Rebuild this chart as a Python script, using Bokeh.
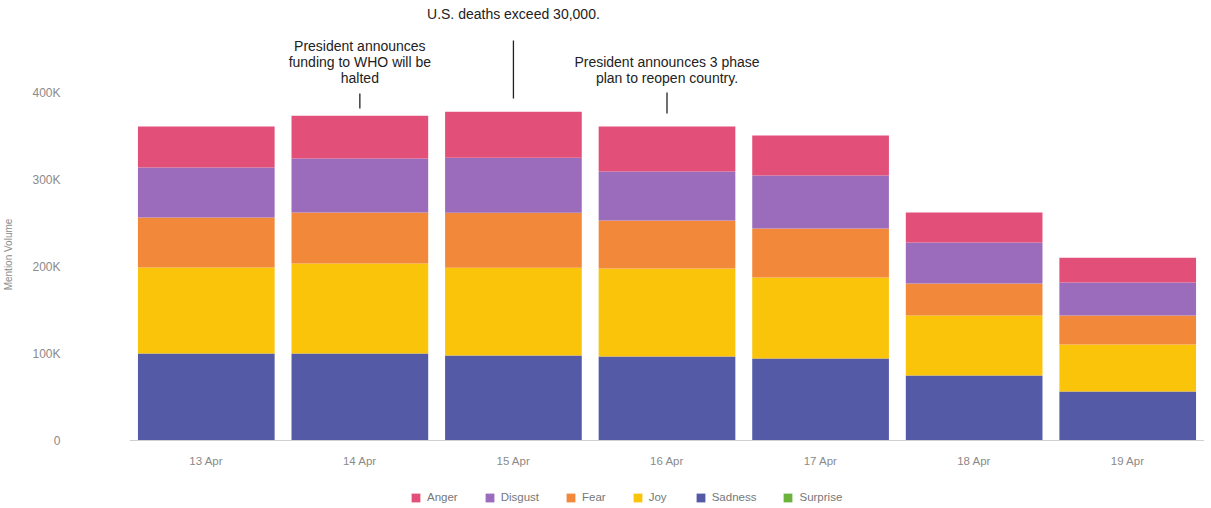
from bokeh.plotting import figure
from bokeh.models import Range1d, FixedTicker, Legend, LegendItem
from bokeh.core.properties import value
from bokeh.embed import file_html
from bokeh.resources import INLINE

# ---------------- data ----------------
dates = ["13 Apr", "14 Apr", "15 Apr", "16 Apr", "17 Apr", "18 Apr", "19 Apr"]
sadness = [100000, 100000, 97700, 96600, 94300, 74700, 56300]
joy = [98900, 103400, 101000, 101000, 93100, 69000, 54000]
fear = [57500, 58600, 63200, 55200, 56300, 36800, 33300]
disgust = [57500, 62000, 63200, 56300, 60900, 47100, 37900]
anger = [47100, 49400, 52900, 51700, 46000, 34500, 28700]
surprise = [0, 0, 0, 0, 0, 0, 0]

emotions = ["Anger", "Disgust", "Fear", "Joy", "Sadness", "Surprise"]
y_ticks = [0, 100000, 200000, 300000, 400000]
y_tick_labels = ["0", "100K", "200K", "300K", "400K"]

ann_dates = ["14 Apr", "15 Apr", "16 Apr"]
ann_texts = ["President announces\nfunding to WHO will be\nhalted",
             "U.S. deaths exceed 30,000.",
             "President announces 3 phase\nplan to reopen country."]

# ---------------- styling / layout ----------------
colors = {"Anger": "#E2507A", "Disgust": "#9B6CBB", "Fear": "#F2883A",
          "Joy": "#F9C40A", "Sadness": "#545AA6", "Surprise": "#6BB33C"}
FONT = "Liberation Sans"
ann_line_y0 = [381600, 393000, 375900]
ann_line_y1 = [398900, 459800, 400000]
ann_text_y = [408000, 481600, 408000]

data = dict(dates=dates, Sadness=sadness, Joy=joy, Fear=fear,
            Disgust=disgust, Anger=anger, Surprise=surprise)

p = figure(x_range=dates, y_range=Range1d(-78160, 505750),
           width=1204, height=508,
           output_backend="svg", toolbar_location=None,
           min_border_left=128, min_border_right=0, min_border_top=0,
           min_border_bottom=0)
p.outline_line_color = None
p.background_fill_color = "white"
p.border_fill_color = "white"
p.xgrid.grid_line_color = None
p.ygrid.grid_line_color = None
p.x_range.range_padding = 0

stack_order = ["Sadness", "Joy", "Fear", "Disgust", "Anger", "Surprise"]
rends = p.vbar_stack(stack_order, x="dates", width=0.89, source=data,
                     color=[colors[s] for s in stack_order], line_color=None)
rmap = dict(zip(stack_order, rends))

# annotations
p.segment(x0=ann_dates, y0=ann_line_y0, x1=ann_dates, y1=ann_line_y1,
          line_color="#222222", line_width=1.3)
p.text(x=ann_dates, y=ann_text_y, text=ann_texts, text_align="center",
       text_baseline="bottom", text_font=value(FONT), text_font_size="14px",
       text_color="#222222", text_line_height=1.0)

# axes
xa = p.xaxis[0]
xa.fixed_location = 0
xa.axis_line_color = "#d0d0d0"
xa.major_tick_line_color = None
xa.minor_tick_line_color = None
xa.major_label_text_font = FONT
xa.major_label_text_font_size = "11.5px"
xa.major_label_text_color = "#8a8a8a"
xa.major_label_standoff = 8

ya = p.yaxis[0]
ya.ticker = FixedTicker(ticks=y_ticks)
ya.major_label_overrides = dict(zip(y_ticks, y_tick_labels))
ya.axis_line_color = None
ya.major_tick_line_color = None
ya.minor_tick_line_color = None
ya.major_label_text_font = FONT
ya.major_label_text_font_size = "12px"
ya.major_label_text_color = "#8a8a8a"
ya.major_label_standoff = 63
ya.axis_label = "Mention Volume"
ya.axis_label_text_font = FONT
ya.axis_label_text_font_size = "10px"
ya.axis_label_text_font_style = "normal"
ya.axis_label_text_color = "#8a8a8a"
ya.axis_label_standoff = 15

# legend (inside the frame, below the axis labels)
items = [LegendItem(label=e, renderers=[rmap[e]]) for e in emotions]
legend = Legend(items=items, orientation="horizontal", location=(281, 5),
                glyph_width=11, glyph_height=11, label_standoff=6, spacing=26,
                label_text_font=FONT, label_text_font_size="11.5px",
                label_text_color="#777777", border_line_color=None,
                background_fill_alpha=0, margin=0, padding=4)
p.add_layout(legend)

open("out.html", "w").write(file_html(p, INLINE))
